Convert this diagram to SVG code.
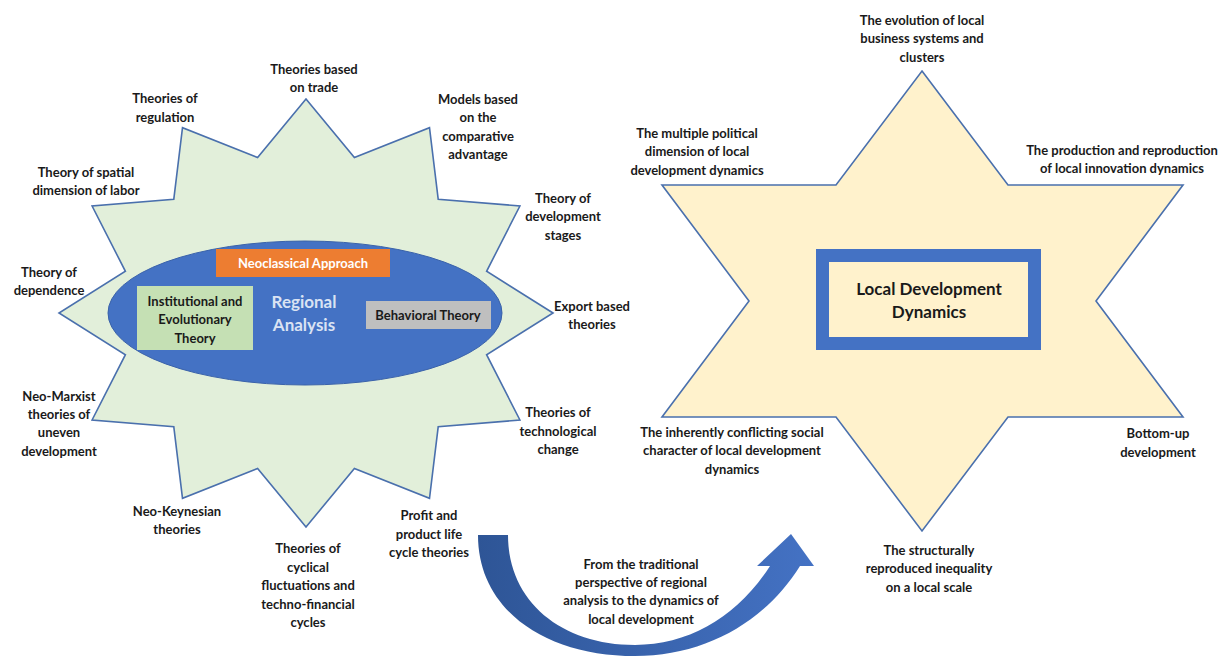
<svg xmlns="http://www.w3.org/2000/svg" width="1222" height="656" viewBox="0 0 1222 656">
<defs>
<style>
.lbl{font-family:Lato,"Liberation Sans",sans-serif;font-size:13px;font-weight:bold;fill:#1a1a1a;text-anchor:middle}
.big{font-family:Lato,"Liberation Sans",sans-serif;font-size:17px;font-weight:bold;text-anchor:middle}
.star{stroke:#4a70ad;stroke-width:1.6;stroke-linejoin:miter}
</style>
<linearGradient id="arrowGrad" x1="0" y1="0" x2="1" y2="0">
<stop offset="0" stop-color="#2e5596"/>
<stop offset="1" stop-color="#4472c4"/>
</linearGradient>
</defs>
<rect width="1222" height="656" fill="#ffffff"/>

<g id="regional-star">
<polygon class="star" fill="#e2efda" points="553,313 486.6,271.3 519.9,206 438.2,199.2 429.5,127.7 354.4,157.5 306,99 257.6,157.5 182.5,127.7 173.8,199.2 92.1,206 125.4,271.3 59,313 125.4,354.7 92.1,420 173.8,426.8 182.5,498.3 257.6,468.5 306,527 354.4,468.5 429.5,498.3 438.2,426.8 519.9,420 486.6,354.7"/>
</g>

<g id="regional-analysis">
<ellipse cx="305" cy="313" rx="197" ry="72" fill="#4472c4" stroke="#3a62aa" stroke-width="1"/>
<text class="big" fill="#dae3f3"><tspan x="304" y="308">Regional</tspan><tspan x="304" y="331">Analysis</tspan></text>
</g>

<g id="neoclassical">
<rect x="216" y="249" width="174" height="28" fill="#ed7d31"/>
<text class="lbl" style="fill:#ffffff" x="303" y="268">Neoclassical Approach</text>
</g>

<g id="institutional">
<rect x="137" y="286" width="116" height="64" fill="#c5e0b4"/>
<text class="lbl"><tspan x="195" y="306">Institutional and</tspan><tspan x="195" y="324">Evolutionary</tspan><tspan x="195" y="343">Theory</tspan></text>
</g>

<g id="behavioral">
<rect x="366" y="301" width="125" height="28" fill="#bfbfbf"/>
<text class="lbl" x="428" y="320">Behavioral Theory</text>
</g>

<g id="label-trade"><text class="lbl"><tspan x="314" y="74">Theories based</tspan><tspan x="314" y="92">on trade</tspan></text></g>
<g id="label-regulation"><text class="lbl"><tspan x="165" y="103">Theories of</tspan><tspan x="165" y="122">regulation</tspan></text></g>
<g id="label-comparative"><text class="lbl"><tspan x="478" y="104">Models based</tspan><tspan x="478" y="122">on the</tspan><tspan x="478" y="141">comparative</tspan><tspan x="478" y="159">advantage</tspan></text></g>
<g id="label-spatial"><text class="lbl"><tspan x="86" y="177">Theory of spatial</tspan><tspan x="86" y="195">dimension of labor</tspan></text></g>
<g id="label-stages"><text class="lbl"><tspan x="563" y="203">Theory of</tspan><tspan x="563" y="221">development</tspan><tspan x="563" y="240">stages</tspan></text></g>
<g id="label-dependence"><text class="lbl"><tspan x="49" y="277">Theory of</tspan><tspan x="49" y="295">dependence</tspan></text></g>
<g id="label-export"><text class="lbl"><tspan x="592" y="311">Export based</tspan><tspan x="592" y="329">theories</tspan></text></g>
<g id="label-neomarxist"><text class="lbl"><tspan x="59" y="401">Neo-Marxist</tspan><tspan x="59" y="419">theories of</tspan><tspan x="59" y="437">uneven</tspan><tspan x="59" y="456">development</tspan></text></g>
<g id="label-technological"><text class="lbl"><tspan x="558" y="417">Theories of</tspan><tspan x="558" y="436">technological</tspan><tspan x="558" y="454">change</tspan></text></g>
<g id="label-neokeynesian"><text class="lbl"><tspan x="177" y="516">Neo-Keynesian</tspan><tspan x="177" y="534">theories</tspan></text></g>
<g id="label-cyclical"><text class="lbl"><tspan x="308" y="553">Theories of</tspan><tspan x="308" y="572">cyclical</tspan><tspan x="308" y="590">fluctuations and</tspan><tspan x="308" y="609">techno-financial</tspan><tspan x="308" y="627">cycles</tspan></text></g>
<g id="label-profit"><text class="lbl"><tspan x="429" y="520">Profit and</tspan><tspan x="429" y="539">product life</tspan><tspan x="429" y="557">cycle theories</tspan></text></g>

<g id="local-star">
<polygon class="star" fill="#fff2cc" points="922,71 1008,185 1183,185 1096,301 1183,417 1008,417 922,531 836,417 662,417 749,301 662,185 836,185"/>
</g>

<g id="local-development">
<rect x="822.5" y="255.5" width="212" height="88" fill="#fff2cc" stroke="#4472c4" stroke-width="13"/>
<text class="big" fill="#1a1a1a"><tspan x="929" y="295">Local Development</tspan><tspan x="929" y="318">Dynamics</tspan></text>
</g>

<g id="label-clusters"><text class="lbl"><tspan x="922" y="25">The evolution of local</tspan><tspan x="922" y="43">business systems and</tspan><tspan x="922" y="62">clusters</tspan></text></g>
<g id="label-political"><text class="lbl"><tspan x="697" y="138">The multiple political</tspan><tspan x="697" y="156">dimension of local</tspan><tspan x="697" y="175">development dynamics</tspan></text></g>
<g id="label-innovation"><text class="lbl"><tspan x="1122" y="155">The production and reproduction</tspan><tspan x="1122" y="173">of local innovation dynamics</tspan></text></g>
<g id="label-conflicting"><text class="lbl"><tspan x="732" y="437">The inherently conflicting social</tspan><tspan x="732" y="455">character of local development</tspan><tspan x="732" y="474">dynamics</tspan></text></g>
<g id="label-bottomup"><text class="lbl"><tspan x="1158" y="438">Bottom-up</tspan><tspan x="1158" y="457">development</tspan></text></g>
<g id="label-inequality"><text class="lbl"><tspan x="929" y="555">The structurally</tspan><tspan x="929" y="573">reproduced inequality</tspan><tspan x="929" y="592">on a local scale</tspan></text></g>

<g id="connectors">
<path fill="url(#arrowGrad)" d="M478,535 C478,612 548,656 635,656 C705,656 765,622 800,566 L814,566 L791,534 L757,566 L770,566 C738,616 690,645 635,645 C562,645 508,602 508,535 Z"/>
<text class="lbl"><tspan x="641" y="569">From the traditional</tspan><tspan x="641" y="587">perspective of regional</tspan><tspan x="641" y="605">analysis to the dynamics of</tspan><tspan x="641" y="624">local development</tspan></text>
</g>
</svg>
